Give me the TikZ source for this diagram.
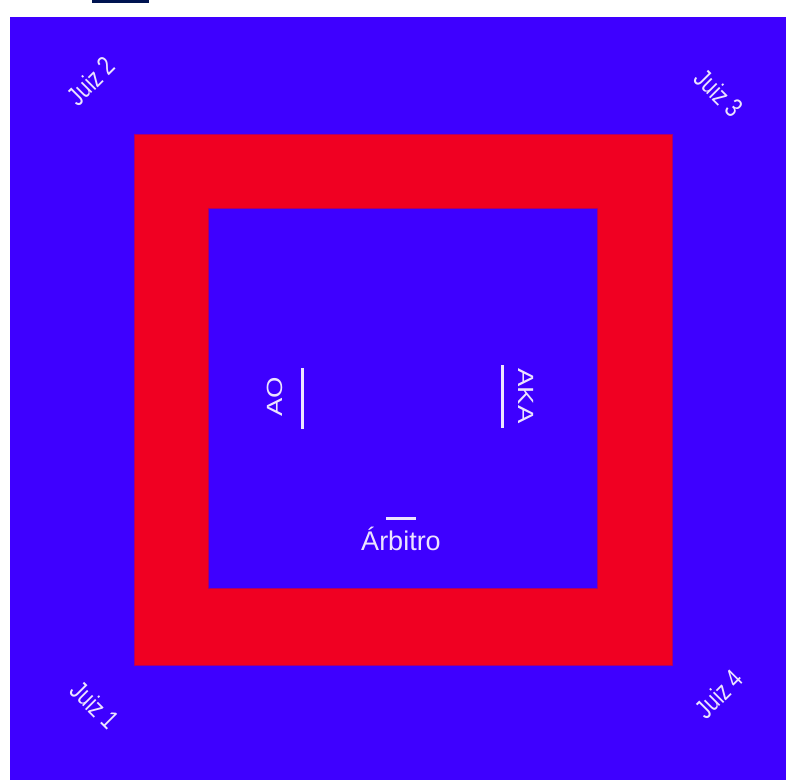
\documentclass[tikz,border=0pt]{standalone}
\usepackage{fontspec}
\usepackage{graphicx}
\setmainfont{Liberation Sans}
\newfontfamily\narrowf{Liberation Sans}[FakeStretch=0.78]
\definecolor{matblue}{RGB}{62,0,255}
\definecolor{matred}{RGB}{240,0,34}
\definecolor{edgered}{RGB}{170,0,110}
\definecolor{txt}{RGB}{236,228,255}
\definecolor{navy}{RGB}{0,20,80}
\tikzset{
  judge/.style={text=txt, font=\narrowf\fontsize{27}{30}\selectfont, inner sep=0pt},
  side/.style={text=txt, font=\fontsize{22}{24}\selectfont, inner sep=0pt},
  tickline/.style={draw=txt, line width=3pt}
}
\begin{document}
\begin{tikzpicture}[x=1pt,y=-1pt]
\useasboundingbox (0,0) rectangle (786,780);
\fill[white] (0,0) rectangle (786,780);
\fill[navy] (92,0) rectangle (149,3);
\fill[matblue] (10,17) rectangle (786,780);
\filldraw[fill=matred, draw=edgered, line width=0.8pt] (134,134) rectangle (672,665);
\filldraw[fill=matblue, draw=edgered, line width=0.8pt] (208,208) rectangle (597,588);
\node[judge, rotate=45] (j2) at (91,81) {Juiz 2};
\node[judge, rotate=-45] (j3) at (719,93) {Juiz 3};
\node[judge, rotate=-45] (j1) at (95,705) {Juiz 1};
\node[judge, rotate=45] (j4) at (719,694) {Juiz 4};
\node[side, rotate=90] (ao) at (274.5,397) {\scalebox{1.25}[1]{AO}};
\node[side, rotate=-90] (aka) at (526,396) {\scalebox{1.25}[1]{AKA}};
\node[side, font=\fontsize{27}{30}\selectfont, anchor=base] (arb) at (401,550) {Árbitro};
\coordinate (aoa) at (302,368);
\coordinate (aob) at (302,429);
\coordinate (akaa) at (502,365);
\coordinate (akab) at (502,428);
\coordinate (arba) at (386,518);
\coordinate (arbb) at (416,518);
\draw[tickline] (aoa) -- (aob);
\draw[tickline] (akaa) -- (akab);
\draw[tickline] (arba) -- (arbb);
\end{tikzpicture}
\end{document}
